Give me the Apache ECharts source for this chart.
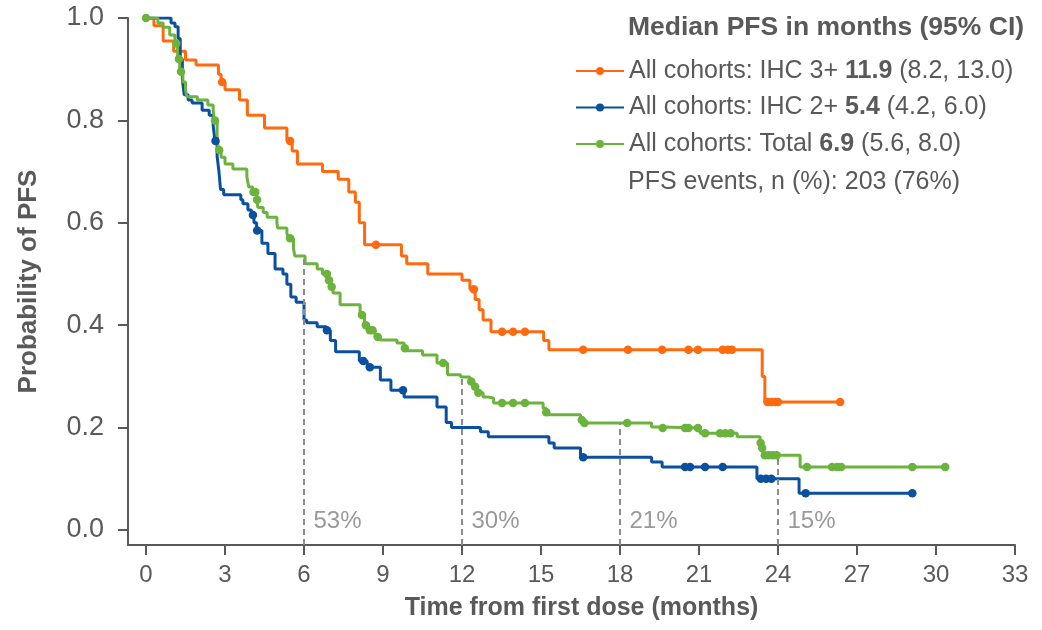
<!DOCTYPE html>
<html>
<head>
<meta charset="utf-8">
<script src="https://cdn.jsdelivr.net/npm/echarts@6/dist/echarts.min.js"></script>
<style>html,body{margin:0;padding:0;background:#fff;}#main{width:1042px;height:630px;}</style>
</head>
<body>
<div id="main"></div>
<script>
// ---- data ----
const xTicks = [0, 3, 6, 9, 12, 15, 18, 21, 24, 27, 30, 33];
const yTicks = [0, 0.2, 0.4, 0.6, 0.8, 1.0];

// Kaplan-Meier steps: [time (months), survival after the step]
const ihc3Steps = [[0,1],[0.3,0.985],[0.65,0.955],[1.05,0.935],[1.5,0.918],[1.9,0.908],[2.75,0.89],[2.85,0.875],[3.0,0.86],[3.55,0.84],[3.85,0.81],[4.5,0.785],[5.35,0.76],[5.55,0.74],[5.75,0.715],[6.7,0.70],[7.3,0.685],[7.7,0.66],[7.95,0.64],[8.1,0.6],[8.3,0.557],[9.7,0.535],[9.9,0.52],[10.7,0.50],[12.0,0.488],[12.3,0.47],[12.5,0.45],[12.65,0.43],[12.8,0.41],[13.1,0.387],[15.1,0.37],[15.3,0.352],[23.4,0.30],[23.5,0.25],[26.36,0.25]];
const ihc3Censor = [[2.89,0.875],[5.47,0.76],[8.73,0.557],[12.45,0.47],[13.52,0.387],[13.94,0.387],[14.39,0.387],[16.6,0.352],[18.3,0.352],[19.6,0.352],[20.6,0.352],[20.96,0.352],[21.9,0.352],[22.1,0.352],[22.25,0.352],[23.6,0.25],[23.75,0.25],[23.9,0.25],[24.0,0.25],[26.36,0.25]];

const ihc2Steps = [[0,1],[0.95,0.99],[1.1,0.983],[1.22,0.96],[1.3,0.92],[1.38,0.88],[1.45,0.85],[1.6,0.84],[1.75,0.834],[2.13,0.82],[2.4,0.81],[2.55,0.79],[2.62,0.76],[2.7,0.73],[2.77,0.70],[2.83,0.665],[2.95,0.655],[3.6,0.645],[3.68,0.637],[3.87,0.625],[4.0,0.615],[4.1,0.60],[4.2,0.585],[4.4,0.56],[4.63,0.54],[4.9,0.51],[5.2,0.50],[5.35,0.48],[5.5,0.455],[5.7,0.445],[6.0,0.41],[6.1,0.405],[6.5,0.397],[6.85,0.39],[7.0,0.37],[7.2,0.348],[8.1,0.33],[8.4,0.318],[8.9,0.293],[9.3,0.273],[9.8,0.26],[11.05,0.24],[11.4,0.21],[11.6,0.20],[12.7,0.192],[13.0,0.182],[15.3,0.17],[15.5,0.16],[16.5,0.142],[19.2,0.133],[19.6,0.123],[23.2,0.10],[24.8,0.072],[29.1,0.072]];
const ihc2Censor = [[2.64,0.76],[4.06,0.615],[4.22,0.585],[6.87,0.39],[8.25,0.33],[8.5,0.318],[9.76,0.273],[16.6,0.142],[20.47,0.123],[20.66,0.123],[21.23,0.123],[21.9,0.123],[23.35,0.10],[23.55,0.10],[23.75,0.10],[25.05,0.072],[29.1,0.072]];

const totalSteps = [[0,1],[0.45,0.99],[0.65,0.982],[0.9,0.967],[1.1,0.95],[1.2,0.92],[1.28,0.895],[1.4,0.875],[1.5,0.86],[1.55,0.846],[1.95,0.84],[2.35,0.83],[2.55,0.82],[2.6,0.80],[2.7,0.77],[2.75,0.742],[2.85,0.728],[3.0,0.715],[3.3,0.705],[3.83,0.69],[3.9,0.67],[4.05,0.66],[4.2,0.645],[4.25,0.63],[4.45,0.62],[4.6,0.611],[4.97,0.60],[5.0,0.59],[5.35,0.58],[5.4,0.57],[5.6,0.55],[5.65,0.535],[6.04,0.52],[6.5,0.51],[6.7,0.5],[6.9,0.488],[7.0,0.475],[7.1,0.463],[7.37,0.44],[8.13,0.42],[8.3,0.40],[8.43,0.39],[8.7,0.377],[8.9,0.371],[9.53,0.365],[9.8,0.355],[9.9,0.35],[10.5,0.342],[11.05,0.326],[11.45,0.303],[11.95,0.299],[12.3,0.29],[12.45,0.28],[12.57,0.268],[12.8,0.26],[12.95,0.258],[13.2,0.248],[15.08,0.238],[15.2,0.23],[15.27,0.225],[16.5,0.215],[16.6,0.209],[19.2,0.201],[19.6,0.199],[21.04,0.189],[22.45,0.182],[23.32,0.17],[23.38,0.16],[23.43,0.146],[24.84,0.123],[30.35,0.123]];
const totalCensor = [[0,1],[1.15,0.95],[1.25,0.92],[1.33,0.895],[2.62,0.80],[2.78,0.742],[4.08,0.66],[4.15,0.66],[4.22,0.645],[5.47,0.57],[6.87,0.5],[6.95,0.488],[7.05,0.475],[8.2,0.42],[8.35,0.40],[8.5,0.39],[8.6,0.39],[8.8,0.377],[9.83,0.355],[11.28,0.326],[12.35,0.29],[12.5,0.28],[12.62,0.268],[13.52,0.248],[13.94,0.248],[14.39,0.248],[15.2,0.23],[16.55,0.215],[16.65,0.209],[18.27,0.209],[19.62,0.199],[20.47,0.199],[20.6,0.199],[20.96,0.199],[21.23,0.189],[21.8,0.189],[22.0,0.189],[22.2,0.189],[23.34,0.17],[23.4,0.16],[23.5,0.146],[23.65,0.146],[23.8,0.146],[23.95,0.146],[25.1,0.123],[26.05,0.123],[26.25,0.123],[26.4,0.123],[29.1,0.123],[30.35,0.123]];

const landmarkTimes = [6, 12, 18, 24];
const landmarkValues = [0.53, 0.30, 0.21, 0.15];
const landmarkLabels = ['53%', '30%', '21%', '15%'];

const seriesNames = ['IHC3', 'IHC2', 'Total'];
const legendPrefix = ['All cohorts: IHC 3+ ', 'All cohorts: IHC 2+ ', 'All cohorts: Total '];
const legendMedian = ['11.9', '5.4', '6.9'];
const legendCI = [' (8.2, 13.0)', ' (4.2, 6.0)', ' (5.6, 8.0)'];
const legendTitle = 'Median PFS in months (95% CI)';
const eventsText = 'PFS events, n (%): 203 (76%)';
const xName = 'Time from first dose (months)';
const yName = 'Probability of PFS';

// ---- styles ----
const colors = ['#FF6A0E', '#0A509E', '#6BB33D'];
const textColor = '#595959';
const FONT = "'Liberation Sans', Arial, sans-serif";
const X_MIN = -0.684, Y_MIN = -0.0293;

const chart = echarts.init(document.getElementById('main'), null, {renderer: 'canvas'});

const stepData = [ihc3Steps, ihc2Steps, totalSteps];
const censorData = [ihc3Censor, ihc2Censor, totalCensor];

const series = [];
stepData.forEach((d, i) => {
  series.push({
    name: seriesNames[i], type: 'line', step: 'end', data: d,
    symbol: 'circle', symbolSize: 8, showSymbol: false,
    lineStyle: {width: 3, color: colors[i]}, itemStyle: {color: colors[i]},
    z: 2 + i, silent: true, animation: false
  });
});
censorData.forEach((d, i) => {
  series.push({
    name: seriesNames[i] + ' censored', type: 'scatter', data: d,
    symbol: 'circle', symbolSize: 8.5, itemStyle: {color: colors[i], opacity: 1},
    z: 5 + i, silent: true, animation: false
  });
});
// landmark dashed lines + labels
series.push({
  name: 'landmarks', type: 'line', data: [], silent: true, animation: false,
  markLine: {
    silent: true, symbol: 'none', animation: false,
    lineStyle: {color: '#8C8C8C', width: 2, type: [6, 4]},
    label: {show: false},
    data: landmarkTimes.map((t, i) => [{coord: [t, Y_MIN]}, {coord: [t, landmarkValues[i]]}])
  }
});
series.push({
  name: 'landmarkLabels', type: 'scatter', silent: true, animation: false,
  data: landmarkTimes.map((t, i) => [t, 0.016]),
  symbolSize: 1, itemStyle: {color: 'rgba(0,0,0,0)'},
  label: {
    show: true, position: 'right', distance: 9,
    formatter: p => landmarkLabels[p.dataIndex],
    fontFamily: FONT, fontSize: 24, color: '#808080'
  }
});

const option = {
  backgroundColor: '#fff',
  animation: false,
  grid: {left: 128, right: 27, top: 18, bottom: 85, containLabel: false},
  xAxis: {
    type: 'value', min: X_MIN, max: 33,
    name: xName, nameLocation: 'middle', nameGap: 51,
    nameTextStyle: {fontFamily: FONT, fontWeight: 'bold', fontSize: 25, color: textColor, padding: [0, 0, 0, 20]},
    axisLine: {show: true, onZero: false, lineStyle: {color: textColor, width: 2}},
    axisTick: {show: true, length: 10, customValues: xTicks, lineStyle: {color: textColor, width: 2}},
    axisLabel: {customValues: xTicks, fontFamily: FONT, fontSize: 24, color: textColor, margin: 18},
    splitLine: {show: false}
  },
  yAxis: {
    type: 'value', min: Y_MIN, max: 1.0,
    name: yName, nameLocation: 'middle', nameGap: 86,
    nameTextStyle: {fontFamily: FONT, fontWeight: 'bold', fontSize: 26, color: textColor},
    axisLine: {show: true, onZero: false, lineStyle: {color: textColor, width: 2}},
    axisTick: {show: true, length: 10, customValues: yTicks, lineStyle: {color: textColor, width: 2}},
    axisLabel: {customValues: yTicks, fontFamily: FONT, fontSize: 27, color: textColor, margin: 24,
      formatter: v => v.toFixed(1)},
    splitLine: {show: false}
  },
  legend: {
    data: seriesNames, orient: 'vertical', left: 570, top: 52,
    itemWidth: 48, itemHeight: 10, itemGap: 8.5,
    selectedMode: false,
    formatter: name => {
      const i = seriesNames.indexOf(name);
      return '{a|' + legendPrefix[i] + '}{b|' + legendMedian[i] + '}{a|' + legendCI[i] + '}';
    },
    textStyle: {
      color: textColor, fontFamily: FONT, fontSize: 25, lineHeight: 28,
      rich: {
        a: {color: textColor, fontFamily: FONT, fontSize: 25, lineHeight: 28},
        b: {color: textColor, fontFamily: FONT, fontSize: 25, lineHeight: 28, fontWeight: 'bold'}
      }
    }
  },
  graphic: [
    {type: 'text', left: 628, top: 14, silent: true,
      style: {text: legendTitle, fontFamily: FONT, fontSize: 26.5, fontWeight: 'bold', fill: textColor}},
    {type: 'text', left: 628, top: 170, silent: true,
      style: {text: eventsText, fontFamily: FONT, fontSize: 25, fill: textColor}}
  ],
  series: series
};
chart.setOption(option);
</script>
</body>
</html>
